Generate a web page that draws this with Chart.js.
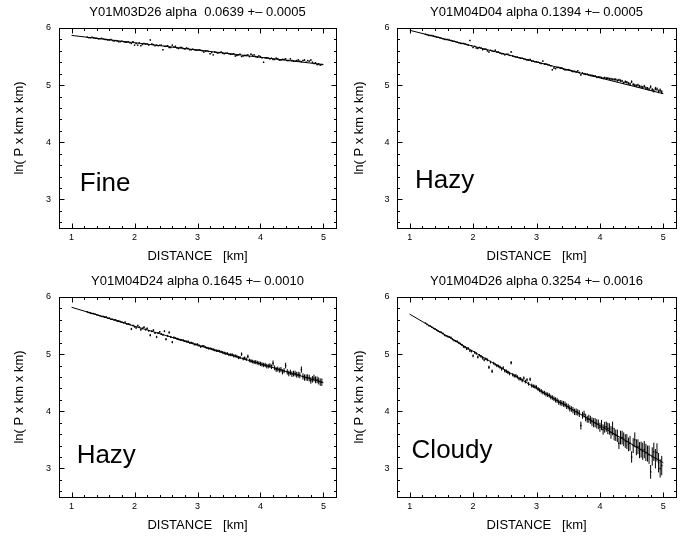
<!DOCTYPE html>
<html>
<head>
<meta charset="utf-8">
<script src="https://cdn.jsdelivr.net/npm/chart.js@4.4.1/dist/chart.umd.min.js"></script>
<style>
  body { margin: 0; background: #fff; }
  #wrap { position: relative; width: 692px; height: 538px; }
  #wrap canvas { position: absolute; }
</style>
</head>
<body>
<div id="wrap">
  <canvas id="c1" width="346" height="269" style="left:0;top:0"></canvas>
  <canvas id="c2" width="346" height="269" style="left:346px;top:0"></canvas>
  <canvas id="c3" width="346" height="269" style="left:0;top:269px"></canvas>
  <canvas id="c4" width="346" height="269" style="left:346px;top:269px"></canvas>
</div>
<script>
// --- Data, distance in km
const dist = [
  1.250,1.275,1.300,1.325,1.350,1.375,1.400,1.425,1.450,1.475,
  1.500,1.525,1.550,1.575,1.600,1.625,1.650,1.675,1.700,1.725,
  1.750,1.775,1.800,1.825,1.850,1.875,1.900,1.925,1.950,1.975,
  2.000,2.025,2.050,2.075,2.100,2.125,2.150,2.175,2.200,2.225,
  2.250,2.275,2.300,2.325,2.350,2.375,2.400,2.425,2.450,2.475,
  2.500,2.525,2.550,2.575,2.600,2.625,2.650,2.675,2.700,2.725,
  2.750,2.775,2.800,2.825,2.850,2.875,2.900,2.925,2.950,2.975,
  3.000,3.025,3.050,3.075,3.100,3.125,3.150,3.175,3.200,3.225,
  3.250,3.275,3.300,3.325,3.350,3.375,3.400,3.425,3.450,3.475,
  3.500,3.525,3.550,3.575,3.600,3.625,3.650,3.675,3.700,3.725,
  3.750,3.775,3.800,3.825,3.850,3.875,3.900,3.925,3.950,3.975,
  4.000,4.025,4.050,4.075,4.100,4.125,4.150,4.175,4.200,4.225,
  4.250,4.275,4.300,4.325,4.350,4.375,4.400,4.425,4.450,4.475,
  4.500,4.525,4.550,4.575,4.600,4.625,4.650,4.675,4.700,4.725,
  4.750,4.775,4.800,4.825,4.850,4.875,4.900,4.925,4.950,4.975
];

const lnP1 = [
  5.84,5.83,5.83,5.84,5.83,5.82,5.82,5.81,5.81,5.82,
  5.81,5.80,5.80,5.79,5.79,5.80,5.78,5.77,5.78,5.77,
  5.76,5.76,5.77,5.76,5.75,5.75,5.76,5.74,5.73,5.76,
  5.70,5.73,5.70,5.74,5.69,5.71,5.73,5.72,5.72,5.70,
  5.79,5.72,5.71,5.69,5.70,5.69,5.70,5.70,5.62,5.68,
  5.68,5.69,5.66,5.66,5.70,5.67,5.68,5.65,5.64,5.66,
  5.66,5.64,5.63,5.65,5.64,5.62,5.62,5.63,5.62,5.61,
  5.61,5.62,5.61,5.60,5.58,5.60,5.60,5.59,5.55,5.57,
  5.53,5.58,5.57,5.56,5.57,5.58,5.56,5.55,5.56,5.56,
  5.55,5.54,5.54,5.55,5.51,5.52,5.53,5.54,5.50,5.51,
  5.52,5.52,5.53,5.50,5.54,5.52,5.53,5.50,5.49,5.51,
  5.50,5.48,5.40,5.48,5.48,5.47,5.46,5.47,5.45,5.45,
  5.47,5.46,5.44,5.44,5.45,5.45,5.46,5.43,5.43,5.46,
  5.43,5.42,5.42,5.43,5.44,5.42,5.41,5.43,5.44,5.40,
  5.43,5.42,5.44,5.40,5.38,5.39,5.36,5.37,5.35,5.36
];
const err1 = [
  0.005,0.005,0.005,0.005,0.005,0.005,0.005,0.005,0.005,0.005,
  0.005,0.005,0.005,0.005,0.005,0.005,0.005,0.005,0.005,0.005,
  0.005,0.005,0.005,0.005,0.005,0.005,0.005,0.005,0.005,0.005,
  0.005,0.005,0.005,0.005,0.005,0.005,0.005,0.005,0.005,0.005,
  0.005,0.005,0.005,0.005,0.005,0.005,0.005,0.005,0.005,0.005,
  0.008,0.008,0.008,0.008,0.008,0.008,0.008,0.008,0.008,0.008,
  0.008,0.008,0.008,0.008,0.008,0.008,0.008,0.008,0.008,0.008,
  0.008,0.008,0.008,0.008,0.008,0.008,0.008,0.008,0.008,0.008,
  0.008,0.008,0.008,0.008,0.008,0.008,0.008,0.008,0.008,0.008,
  0.008,0.008,0.008,0.008,0.008,0.008,0.008,0.008,0.008,0.008,
  0.011,0.011,0.011,0.011,0.011,0.011,0.011,0.011,0.011,0.011,
  0.011,0.011,0.011,0.011,0.011,0.011,0.011,0.011,0.011,0.011,
  0.011,0.011,0.011,0.011,0.011,0.011,0.011,0.011,0.011,0.011,
  0.011,0.011,0.011,0.011,0.011,0.011,0.011,0.011,0.011,0.011,
  0.011,0.011,0.011,0.011,0.011,0.011,0.011,0.011,0.011,0.011
];

const lnP2 = [
  5.89,5.88,5.87,5.87,5.87,5.86,5.85,5.84,5.84,5.83,
  5.82,5.81,5.80,5.80,5.80,5.79,5.78,5.77,5.77,5.76,
  5.75,5.74,5.73,5.73,5.73,5.72,5.71,5.70,5.78,5.69,
  5.66,5.68,5.65,5.64,5.66,5.65,5.62,5.63,5.63,5.60,
  5.58,5.61,5.60,5.59,5.61,5.58,5.58,5.56,5.55,5.55,
  5.53,5.54,5.54,5.52,5.58,5.51,5.50,5.49,5.49,5.48,
  5.47,5.47,5.46,5.45,5.44,5.44,5.45,5.42,5.42,5.41,
  5.41,5.40,5.39,5.38,5.42,5.37,5.37,5.36,5.35,5.34,
  5.27,5.30,5.29,5.31,5.31,5.30,5.30,5.28,5.27,5.27,
  5.27,5.26,5.25,5.24,5.24,5.23,5.25,5.22,5.18,5.21,
  5.20,5.19,5.19,5.18,5.17,5.17,5.16,5.16,5.14,5.14,
  5.14,5.13,5.12,5.13,5.12,5.12,5.11,5.11,5.10,5.10,
  5.10,5.08,5.09,5.08,5.07,5.04,5.06,5.05,5.03,5.02,
  5.06,5.01,5.00,4.99,5.00,4.98,4.97,4.96,4.98,4.95,
  4.94,4.93,4.97,4.92,4.90,4.94,4.93,4.89,4.91,4.88
];
const err2 = [
  0.005,0.005,0.005,0.005,0.005,0.005,0.005,0.005,0.005,0.005,
  0.005,0.005,0.005,0.005,0.005,0.005,0.005,0.005,0.005,0.005,
  0.006,0.006,0.006,0.006,0.006,0.006,0.006,0.006,0.006,0.006,
  0.006,0.007,0.006,0.007,0.006,0.007,0.008,0.007,0.008,0.008,
  0.008,0.008,0.008,0.008,0.008,0.008,0.008,0.008,0.008,0.008,
  0.008,0.009,0.008,0.009,0.010,0.009,0.008,0.009,0.008,0.009,
  0.010,0.010,0.010,0.010,0.010,0.010,0.010,0.010,0.010,0.010,
  0.010,0.011,0.010,0.011,0.012,0.011,0.012,0.012,0.012,0.012,
  0.012,0.012,0.012,0.013,0.012,0.013,0.012,0.013,0.014,0.014,
  0.014,0.014,0.014,0.015,0.014,0.015,0.015,0.015,0.015,0.015,
  0.015,0.016,0.016,0.016,0.016,0.017,0.017,0.017,0.018,0.018,
  0.018,0.018,0.018,0.019,0.018,0.019,0.020,0.020,0.020,0.020,
  0.020,0.021,0.022,0.022,0.022,0.022,0.022,0.023,0.024,0.024,
  0.024,0.024,0.024,0.025,0.025,0.025,0.025,0.026,0.026,0.026,
  0.028,0.028,0.028,0.029,0.030,0.030,0.030,0.031,0.032,0.032
];

const lnP3 = [
  5.74,5.73,5.72,5.71,5.71,5.70,5.69,5.68,5.67,5.66,
  5.66,5.65,5.65,5.63,5.63,5.61,5.61,5.60,5.60,5.58,
  5.58,5.57,5.56,5.55,5.56,5.53,5.53,5.52,5.44,5.50,
  5.48,5.46,5.50,5.47,5.43,5.45,5.47,5.43,5.45,5.41,
  5.33,5.40,5.42,5.37,5.30,5.37,5.39,5.35,5.34,5.40,
  5.26,5.32,5.38,5.30,5.21,5.29,5.28,5.27,5.26,5.25,
  5.25,5.24,5.23,5.22,5.22,5.20,5.20,5.19,5.17,5.17,
  5.17,5.15,5.13,5.14,5.14,5.12,5.11,5.10,5.10,5.09,
  5.08,5.07,5.06,5.06,5.05,5.04,5.03,5.02,5.01,5.01,
  4.99,4.99,4.99,4.97,4.97,4.96,4.94,4.94,5.00,4.92,
  4.93,4.91,4.96,4.89,4.88,4.87,4.86,4.86,4.85,4.84,
  4.83,4.82,4.81,4.81,4.79,4.79,4.80,4.78,4.84,4.76,
  4.73,4.74,4.72,4.73,4.69,4.71,4.80,4.69,4.66,4.68,
  4.65,4.66,4.66,4.64,4.64,4.63,4.73,4.61,4.59,4.59,
  4.59,4.58,4.54,4.56,4.58,4.55,4.55,4.53,4.51,4.51
];
const err3 = [
  0.008,0.008,0.008,0.008,0.008,0.008,0.008,0.008,0.008,0.008,
  0.010,0.010,0.010,0.010,0.010,0.010,0.010,0.010,0.010,0.010,
  0.012,0.012,0.012,0.012,0.012,0.012,0.012,0.012,0.020,0.012,
  0.015,0.015,0.015,0.015,0.020,0.015,0.015,0.015,0.015,0.015,
  0.020,0.015,0.015,0.015,0.020,0.015,0.015,0.015,0.015,0.015,
  0.020,0.018,0.020,0.018,0.020,0.018,0.015,0.018,0.015,0.018,
  0.015,0.018,0.015,0.018,0.018,0.018,0.018,0.018,0.018,0.018,
  0.020,0.020,0.020,0.020,0.020,0.020,0.020,0.020,0.020,0.020,
  0.022,0.022,0.022,0.022,0.022,0.022,0.025,0.025,0.025,0.025,
  0.025,0.025,0.028,0.028,0.028,0.028,0.028,0.028,0.030,0.030,
  0.030,0.030,0.032,0.032,0.032,0.032,0.035,0.035,0.035,0.035,
  0.038,0.038,0.038,0.038,0.040,0.040,0.040,0.040,0.050,0.042,
  0.042,0.044,0.045,0.045,0.045,0.046,0.050,0.048,0.048,0.048,
  0.050,0.050,0.050,0.050,0.052,0.052,0.055,0.055,0.055,0.055,
  0.058,0.058,0.058,0.058,0.060,0.060,0.060,0.062,0.065,0.065
];

const lnP4 = [
  5.54,5.52,5.50,5.49,5.47,5.45,5.44,5.42,5.40,5.39,
  5.38,5.36,5.33,5.32,5.31,5.30,5.29,5.26,5.24,5.23,
  5.22,5.20,5.18,5.16,5.13,5.12,5.09,5.10,5.06,5.05,
  4.97,5.03,5.01,4.95,4.98,4.96,4.93,4.90,4.92,4.90,
  4.77,4.86,4.70,4.84,4.82,4.80,4.79,4.77,4.74,4.76,
  4.71,4.70,4.68,4.66,4.85,4.64,4.62,4.62,4.60,4.57,
  4.57,4.54,4.58,4.52,4.55,4.48,4.56,4.45,4.44,4.43,
  4.42,4.39,4.37,4.35,4.33,4.32,4.30,4.29,4.28,4.25,
  4.24,4.22,4.20,4.19,4.16,4.15,4.14,4.13,4.12,4.09,
  4.08,4.05,4.04,4.02,3.99,3.99,3.98,3.96,3.75,3.93,
  3.95,3.89,3.86,3.87,3.85,3.82,3.80,3.80,3.78,3.77,
  3.72,3.76,3.68,3.72,3.73,3.70,3.69,3.63,3.70,3.60,
  3.58,3.57,3.44,3.54,3.54,3.51,3.48,3.47,3.42,3.44,
  3.20,3.40,3.50,3.37,3.38,3.32,3.33,3.30,3.33,3.28,
  3.26,3.24,2.94,3.21,3.29,3.17,3.28,3.10,3.00,3.05
];
const err4 = [
  0.010,0.010,0.010,0.010,0.010,0.010,0.010,0.012,0.010,0.012,
  0.015,0.015,0.015,0.015,0.015,0.015,0.015,0.018,0.015,0.018,
  0.020,0.020,0.020,0.020,0.020,0.020,0.020,0.022,0.020,0.022,
  0.025,0.022,0.020,0.025,0.020,0.022,0.025,0.025,0.020,0.025,
  0.030,0.025,0.030,0.025,0.020,0.028,0.025,0.028,0.030,0.028,
  0.030,0.030,0.030,0.030,0.030,0.030,0.030,0.032,0.030,0.032,
  0.030,0.032,0.030,0.032,0.030,0.032,0.030,0.035,0.030,0.035,
  0.035,0.035,0.035,0.038,0.035,0.038,0.040,0.040,0.040,0.040,
  0.040,0.042,0.045,0.045,0.045,0.048,0.050,0.050,0.050,0.050,
  0.050,0.055,0.050,0.055,0.055,0.060,0.055,0.060,0.070,0.060,
  0.060,0.065,0.060,0.070,0.070,0.075,0.080,0.080,0.080,0.085,
  0.080,0.090,0.090,0.095,0.090,0.100,0.100,0.110,0.120,0.110,
  0.100,0.110,0.100,0.120,0.120,0.120,0.120,0.130,0.120,0.130,
  0.100,0.130,0.130,0.140,0.130,0.140,0.140,0.150,0.150,0.150,
  0.140,0.160,0.120,0.160,0.160,0.170,0.160,0.170,0.160,0.170
];

// fitted straight lines, end points at 1 km and 5 km
const fitX = [1, 5];
const fit1 = [5.87, 5.36];
const fit2 = [5.96, 4.85];
const fit3 = [5.82, 4.50];
const fit4 = [5.70, 3.10];

const titles = [
  'Y01M03D26 alpha  0.0639 +\u2013 0.0005',
  'Y01M04D04 alpha 0.1394 +\u2013 0.0005',
  'Y01M04D24 alpha 0.1645 +\u2013 0.0010',
  'Y01M04D26 alpha 0.3254 +\u2013 0.0016'
];
const weather = ['Fine', 'Hazy', 'Hazy', 'Cloudy'];
const xTicks = [1, 2, 3, 4, 5];
const yTicks = [3, 4, 5, 6];

// --- Panel layout (left column has a wider y axis than the right one)
const panels = [
  { id: 'c1', y: lnP1, err: err1, fit: fit1, yw: 59, padR: 10, yTitlePad: 12, yTickPad: 8, lx: 1.13, ly: 3.14 },
  { id: 'c2', y: lnP2, err: err2, fit: fit2, yw: 51, padR: 16, yTitlePad: 5.5, yTickPad: 7.5, lx: 1.085, ly: 3.20 },
  { id: 'c3', y: lnP3, err: err3, fit: fit3, yw: 59, padR: 10, yTitlePad: 12, yTickPad: 8, lx: 1.08, ly: 3.09 },
  { id: 'c4', y: lnP4, err: err4, fit: fit4, yw: 51, padR: 16, yTitlePad: 5.5, yTickPad: 7.5, lx: 1.03, ly: 3.18 }
];

const FONT = '"Liberation Sans", Arial, Helvetica, sans-serif';
Chart.defaults.font.family = FONT;
Chart.defaults.color = '#000';

// --- Frame with inner ticks on all sides, error bars, weather label
const framePlugin = {
  id: 'frame',
  afterDatasetsDraw(chart) {
    const { ctx, scales: { x, y } } = chart;
    chart.data.datasets.forEach((ds) => {
      if (!ds.errors) return;
      ctx.save();
      ctx.strokeStyle = '#000';
      ctx.lineWidth = 1;
      ctx.beginPath();
      ds.data.forEach((p, j) => {
        const px = x.getPixelForValue(p.x);
        const e = ds.errors[j];
        ctx.moveTo(px, y.getPixelForValue(p.y + e));
        ctx.lineTo(px, y.getPixelForValue(p.y - e));
      });
      ctx.stroke();
      ctx.restore();
    });
  },
  afterDraw(chart, args, opts) {
    const { ctx, chartArea: a, scales: { x, y } } = chart;
    const L = Math.round(a.left) + 0.5, R = Math.round(a.right) + 0.5;
    const T = Math.round(a.top) + 0.5, B = Math.round(a.bottom) + 0.5;
    ctx.save();
    ctx.strokeStyle = '#000';
    ctx.lineWidth = 1;
    ctx.strokeRect(L, T, R - L, B - T);
    ctx.beginPath();
    // x ticks every 0.2 km
    for (let i = 0; i <= 20; i++) {
      const v = 1 + i * 0.2;
      const len = i % 5 === 0 ? 5 : 2.5;
      const px = Math.round(x.getPixelForValue(v)) + 0.5;
      ctx.moveTo(px, B); ctx.lineTo(px, B - len);
      ctx.moveTo(px, T); ctx.lineTo(px, T + len);
    }
    // y ticks every 0.2
    for (let i = 0; i <= 16; i++) {
      const v = 2.6 + i * 0.2;
      const major = Math.abs(v - Math.round(v)) < 1e-6;
      const len = major ? 5 : 2.5;
      const py = Math.round(y.getPixelForValue(v)) + 0.5;
      ctx.moveTo(L, py); ctx.lineTo(L + len, py);
      ctx.moveTo(R, py); ctx.lineTo(R - len, py);
    }
    ctx.stroke();
    // weather label
    ctx.fillStyle = '#000';
    ctx.font = '26px ' + FONT;
    ctx.textBaseline = 'alphabetic';
    ctx.textAlign = 'left';
    ctx.fillText(opts.label, x.getPixelForValue(opts.lx), y.getPixelForValue(opts.ly));
    ctx.restore();
  }
};

function makePanel(p, i) {
  const ctx = document.getElementById(p.id).getContext('2d');
  new Chart(ctx, {
    type: 'scatter',
    data: {
      datasets: [
        {
          data: dist.map((d, j) => ({ x: d, y: p.y[j] })),
          errors: p.err,
          pointStyle: 'rect',
          pointRadius: 1,
          backgroundColor: '#000',
          borderWidth: 0
        },
        {
          data: fitX.map((d, j) => ({ x: d, y: p.fit[j] })),
          showLine: true,
          borderColor: '#000',
          borderWidth: 1,
          pointRadius: 0
        }
      ]
    },
    options: {
      responsive: false,
      animation: false,
      events: [],
      layout: { padding: { top: 0, right: p.padR, bottom: 0, left: 0 } },
      plugins: {
        legend: { display: false },
        tooltip: { enabled: false },
        title: {
          display: true,
          text: titles[i],
          fullSize: false,
          color: '#000',
          font: { size: 13, weight: 'normal', lineHeight: '16px' },
          padding: { top: 4, bottom: 8 }
        },
        frame: { label: weather[i], lx: p.lx, ly: p.ly }
      },
      scales: {
        x: {
          type: 'linear',
          min: 0.8,
          max: 5.2,
          afterBuildTicks: (s) => { s.ticks = xTicks.map(v => ({ value: v })); },
          afterFit: (s) => { s.height = 41; },
          grid: { display: false, drawTicks: false },
          border: { display: false },
          ticks: { font: { size: 9 }, color: '#000', padding: 4, maxRotation: 0 },
          title: { display: true, text: 'DISTANCE   [km]', color: '#000', font: { size: 13 }, padding: { top: 0, bottom: 5 } }
        },
        y: {
          type: 'linear',
          min: 2.5,
          max: 6,
          afterBuildTicks: (s) => { s.ticks = yTicks.map(v => ({ value: v })); },
          afterFit: (s) => { s.width = p.yw; },
          grid: { display: false, drawTicks: false },
          border: { display: false },
          ticks: { font: { size: 9 }, color: '#000', padding: p.yTickPad },
          title: { display: true, text: 'ln( P x km x km)', color: '#000', font: { size: 13 }, padding: { top: p.yTitlePad, bottom: 0 } }
        }
      }
    },
    plugins: [framePlugin]
  });
}

panels.forEach(makePanel);
</script>
</body>
</html>
